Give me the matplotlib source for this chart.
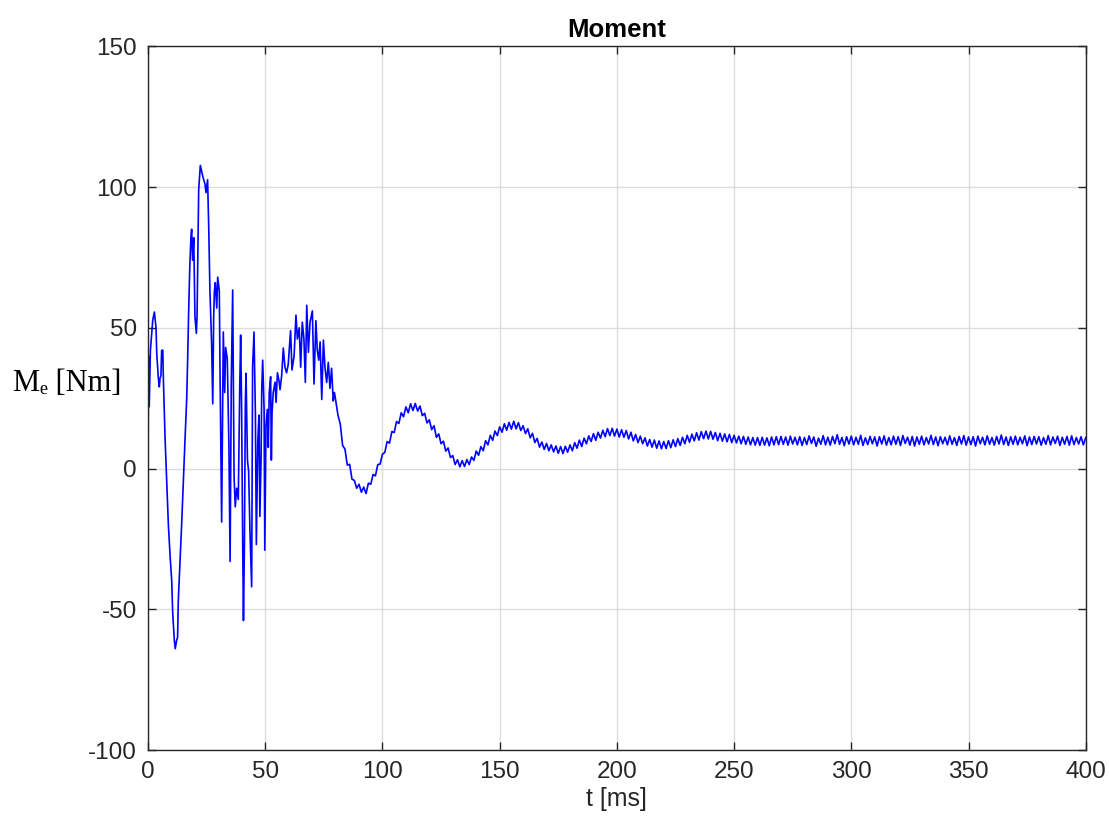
import numpy as np
import matplotlib
matplotlib.use('Agg')
import matplotlib.pyplot as plt

plt.rcParams['font.family'] = ['Liberation Sans', 'DejaVu Sans']
plt.rcParams['axes.unicode_minus'] = False

# start-up transient (t in ms, moment in Nm)
early_t = [0.0, 0.2, 0.5, 1.0, 2.0, 2.7, 3.4, 3.7, 4.4, 4.8, 5.1, 5.5, 5.8, 6.3, 6.5,
           7.25, 7.96, 8.67, 9.4, 10.1, 10.5, 11.2, 11.6, 12.2, 12.6, 12.9, 13.6, 14.4,
           15.1, 15.8, 16.5, 16.9, 17.3, 17.8, 18.3, 18.6, 19.0, 19.5, 20.0, 20.6, 20.9,
           21.2, 21.6, 22.3, 23.0, 23.6, 24.3, 24.7, 25.4, 25.9, 26.4, 27.1, 27.6, 28.0,
           28.3, 28.7, 29.3, 29.7, 30.4, 30.7, 31.4, 32.1, 32.7, 33.1, 33.8, 34.5, 35.0,
           35.5, 36.1, 36.7, 37.2, 37.8, 38.5, 39.1, 39.5, 39.9, 40.4, 40.7, 41.1, 41.5,
           41.8, 42.4, 42.9, 43.5, 44.2, 44.6, 45.2, 45.8, 46.2, 46.8, 47.3, 47.7, 48.2,
           48.5, 48.9, 49.5, 49.8, 50.3, 50.9, 51.3, 51.7, 52.3, 52.6, 52.9, 53.4, 54.2,
           54.6, 55.2, 55.9, 56.3, 57.0, 57.7, 58.4, 59.1, 59.8, 60.8, 61.4, 62.3, 63.1,
           63.7, 64.5, 65.1, 65.8, 66.5, 67.1, 67.7, 68.4, 69.1, 70.1, 70.8, 71.6, 72.2,
           72.8, 73.4, 74.1, 74.8, 75.5, 76.2, 76.9, 77.6, 78.3, 79.0, 79.5]
early_m = [0, 40, 22, 42, 52.7, 55.6, 50, 41, 32, 29, 32, 33, 42, 42, 33,
           11, -5, -20, -31, -40, -51, -61, -64, -61, -60, -47, -34, -18.5,
           -3.5, 11, 25, 39, 55, 71.6, 82.3, 85, 74, 82, 54, 48, 54,
           74, 99, 107.7, 105, 103, 101, 98, 102.6, 85, 63, 45, 23, 54,
           63, 66, 57, 68, 63, 35, -19, 48.5, 27, 43, 39, 7.6, -33,
           30, 63.4, -3, -13.6, -7, -11, 28, 47.4, 22, -29, -54, -28, 23,
           33.8, 3, -1, -23, -42, 36, 48.5, 19, -27, 9, 19, -17, 3,
           28, 38.5, 21, -29, 15, 21, 7.5, 27, 32.6, 3, 20, 27, 30.7,
           23.5, 34, 31, 28, 33, 42.8, 36, 34, 37, 49, 35, 40, 54.5,
           46, 50, 36, 52, 46, 30.6, 58, 41.3, 52, 56, 30, 52.5, 42,
           38.5, 45, 24.5, 45.6, 35.6, 30.6, 37.7, 28.5, 35.6, 24, 27]

# damped part, one reading per ms from 80 to 400 ms
tail_m = [24.5, 19.0, 15.8, 8.2, 6.9, 1.2, 1.5, -3.8, -4.2, -7.0,
          -5.6, -8.4, -6.6, -8.9, -5.2, -5.6, -2.1, -2.6, 1.4, 1.6,
          5.1, 5.7, 9.6, 9.0, 13.1, 12.8, 16.7, 16.0, 19.8, 18.4,
          21.9, 19.8, 23.0, 20.6, 23.1, 20.4, 22.2, 18.8, 19.6, 16.2,
          17.3, 13.8, 15.2, 11.1, 12.3, 8.8, 9.7, 6.2, 7.3, 3.9,
          4.6, 1.4, 3.1, 0.6, 2.8, 0.7, 3.2, 1.4, 4.1, 2.9,
          6.2, 4.7, 7.8, 6.3, 9.9, 8.4, 11.8, 10.0, 13.3, 11.7,
          14.8, 12.9, 15.9, 13.6, 16.4, 14.0, 16.8, 14.1, 16.3, 13.5,
          15.2, 12.4, 14.1, 10.9, 12.5, 9.2, 10.7, 7.6, 9.4, 6.8,
          8.9, 6.3, 8.4, 5.9, 8.0, 5.4, 7.8, 5.3, 7.9, 5.8,
          8.4, 6.3, 9.2, 7.2, 10.1, 7.8, 10.8, 8.8, 11.6, 9.6,
          12.4, 10.0, 12.9, 10.8, 13.6, 11.3, 14.2, 11.7, 14.3, 11.5,
          14.0, 11.2, 13.8, 11.1, 13.5, 10.5, 12.9, 9.8, 12.1, 9.2,
          11.5, 8.8, 10.9, 8.0, 10.3, 7.6, 10.1, 7.2, 9.8, 7.0,
          9.6, 7.1, 9.9, 7.4, 10.2, 7.8, 10.6, 8.2, 11.1, 8.8,
          11.8, 9.3, 12.2, 9.8, 12.7, 10.1, 13.1, 10.6, 13.3, 10.5,
          13.2, 10.4, 12.8, 9.9, 12.5, 9.7, 12.3, 9.5, 12.1, 9.2,
          11.8, 9.1, 11.5, 8.8, 11.4, 8.6, 11.2, 8.4, 11.0, 8.3,
          11.0, 8.2, 11.1, 8.3, 10.9, 8.1, 11.2, 8.4, 11.3, 8.5,
          11.4, 8.6, 11.2, 8.3, 11.5, 8.7, 11.1, 8.4, 11.3, 8.2,
          11.0, 8.5, 11.6, 8.9, 11.2, 7.9, 10.8, 8.6, 11.7, 8.4,
          11.1, 8.3, 11.4, 8.8, 12.0, 8.6, 11.0, 8.1, 11.3, 8.7,
          11.5, 8.4, 11.1, 8.6, 11.8, 8.2, 10.9, 8.5, 11.4, 8.8,
          11.2, 8.0, 11.3, 8.7, 11.6, 8.3, 11.0, 8.4, 11.5, 8.6,
          11.3, 8.2, 11.7, 8.9, 11.1, 8.3, 11.4, 8.0, 11.2, 8.6,
          11.5, 8.4, 11.0, 8.7, 11.8, 8.5, 11.2, 8.1, 11.3, 8.8,
          11.1, 8.4, 11.6, 8.6, 11.0, 8.2, 11.4, 8.7, 11.7, 8.3,
          11.2, 8.5, 11.3, 8.0, 11.5, 8.8, 11.1, 8.4, 11.6, 8.6,
          11.0, 8.3, 11.4, 8.7, 11.9, 8.5, 11.2, 8.2, 11.3, 8.6,
          11.5, 8.4, 11.1, 8.8, 11.6, 8.1, 11.2, 8.5, 11.4, 8.7,
          11.3, 8.3, 11.0, 8.6, 11.7, 8.4, 11.2, 8.9, 11.5, 8.2,
          11.1, 8.6, 11.4, 8.3, 11.6, 8.5, 11.0, 8.7, 11.3, 8.4,
          11.0]

x_ticks = [0, 50, 100, 150, 200, 250, 300, 350, 400]
y_ticks = [-100, -50, 0, 50, 100, 150]

t = np.concatenate([early_t, np.arange(80, 80 + len(tail_m))])
m = np.concatenate([early_m, tail_m])

fig = plt.figure(figsize=(11.09, 8.25), dpi=100)
ax = fig.add_axes([0.1335, 0.0909, 0.8455, 0.853])
ax.plot(t, m, color='#0000ff', lw=1.2)
ax.set_xlim(0, 400)
ax.set_ylim(-100, 150)
ax.set_xticks(x_ticks)
ax.set_yticks(y_ticks)
ax.grid(True, color='#dcdcdc', lw=1)
ax.set_axisbelow(True)
ax.tick_params(direction='in', top=True, right=True, length=6, width=1,
               labelsize=17.5, colors='#262626', pad=8)
for s in ax.spines.values():
    s.set_color('#262626')
    s.set_linewidth(1)

ax.set_title('Moment', fontsize=18.5, fontweight='bold', pad=7)
ax.set_xlabel('t [ms]', fontsize=18, color='#262626', labelpad=3)
ax.set_ylabel('Mₑ [Nm]', family=['Liberation Serif', 'DejaVu Serif'], fontsize=22,
              rotation=0, ha='center', va='center')
ax.yaxis.set_label_coords(-0.086, 0.521)

fig.savefig('out.png', dpi=100)
